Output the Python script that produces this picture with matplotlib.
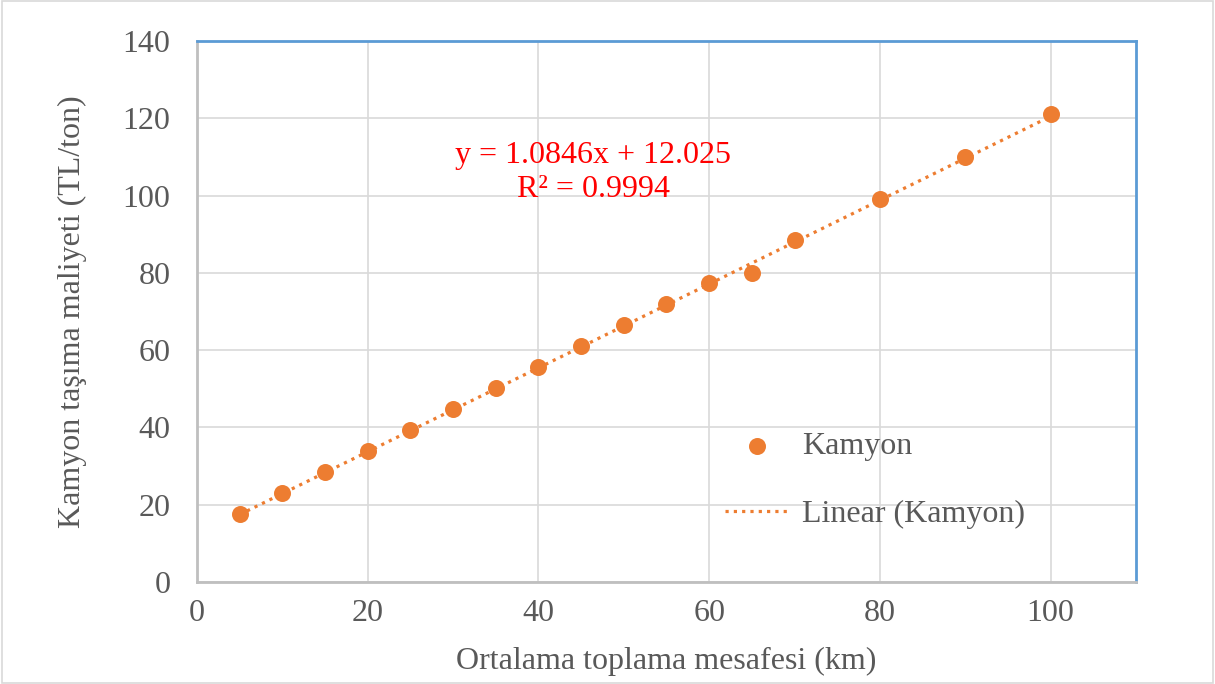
import numpy as np
import matplotlib.pyplot as plt
from matplotlib.patches import Rectangle

# data
mesafe = [5, 10, 15, 20, 25, 30, 35, 40, 45, 50, 55, 60, 65, 70, 80, 90, 100]
maliyet = [17.6, 23.0, 28.5, 33.9, 39.3, 44.8, 50.2, 55.6, 61.1, 66.5, 71.9, 77.4, 80.0, 88.4, 99.1, 110.0, 121.0]
slope = 1.0846
intercept = 12.025
r2 = 0.9994

x_ticks = [0, 20, 40, 60, 80, 100]
y_ticks = [0, 20, 40, 60, 80, 100, 120, 140]

orange = "#ED7D31"
gray_txt = "#595959"
fs = 23

plt.rcParams["font.family"] = ["Liberation Serif", "DejaVu Serif"]

fig = plt.figure(figsize=(12.15, 6.84), dpi=100)
fig.patches.append(Rectangle((0.002, 0.002), 0.996, 0.996, transform=fig.transFigure,
                             fill=False, edgecolor="#D9D9D9", linewidth=1.2))
ax = fig.add_axes([0.1621, 0.1491, 0.7729, 0.7910])

ax.scatter(mesafe, maliyet, s=150, color=orange, zorder=3, label="Kamyon", linewidths=0)

xs = np.array([min(mesafe), max(mesafe)])
ax.plot(xs, slope * xs + intercept, color=orange, linestyle=(0, (1, 1.6)),
        linewidth=2.3, zorder=2, label="Linear (Kamyon)")

ax.set_xlim(0, 110)
ax.set_ylim(0, 140)
ax.set_xticks(x_ticks)
ax.set_yticks(y_ticks)
ax.grid(True, color="#D9D9D9", linewidth=1.2)
ax.set_axisbelow(True)
ax.tick_params(length=0, labelsize=fs, colors=gray_txt)
ax.tick_params(axis="y", pad=19)
ax.tick_params(axis="x", pad=12)

for side in ["top", "right"]:
    ax.spines[side].set_color("#5B9BD5")
    ax.spines[side].set_linewidth(2)
for side in ["left", "bottom"]:
    ax.spines[side].set_color("#BFBFBF")
    ax.spines[side].set_linewidth(2)

ax.set_xlabel("Ortalama toplama mesafesi (km)", fontsize=fs, color=gray_txt, labelpad=14)
ax.set_ylabel("Kamyon taşıma maliyeti (TL/ton)", fontsize=fs, color=gray_txt, labelpad=26)

ax.text(46.4, 106, f"y = {slope}x + {intercept}\nR² = {r2}", color="red", fontsize=fs,
        ha="center", va="center", linespacing=1.25)

leg = ax.legend(loc="center left", bbox_to_anchor=(0.532, 0.188), frameon=False,
                fontsize=fs, labelspacing=1.2, handlelength=2.0, handletextpad=0.4,
                markerscale=1.0)
for t in leg.get_texts():
    t.set_color(gray_txt)

fig.savefig("out.png", dpi=100)
